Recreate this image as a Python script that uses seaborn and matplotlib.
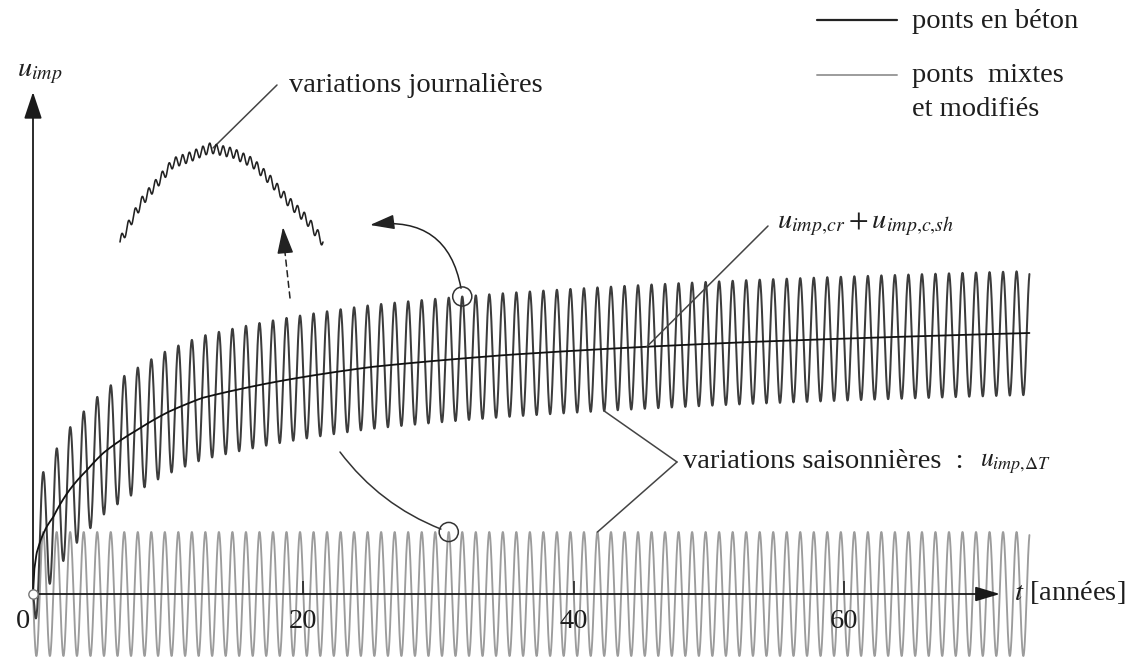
import numpy as np
import pandas as pd
import matplotlib
matplotlib.use('Agg')
import matplotlib.pyplot as plt
import seaborn as sns

W, H = 1130, 657

# creep + shrinkage curve of concrete bridges (years -> u)
creep_t = [0, 0.1, 0.27, 0.6, 1.0, 1.5, 2.7, 4.0, 5.2, 7.7, 10, 12.5, 15,
           17.5, 20, 25, 35, 45, 53, 73.7]
creep_u = [0, 2.5, 4.1, 5.5, 6.7, 7.7, 10.4, 12.4, 14.1, 16.4, 18.2, 19.6,
           20.4, 21.1, 21.7, 22.7, 23.9, 24.7, 25.2, 26.1]

# seasonal thermal variation (same for both bridge types)
seasonal_amp = 6.2
seasonal_period = 1.0   # years
t_end = 73.7

# daily variations (zoom on one season)
daily_day = [0, 1.92, 3.40, 5.47, 7.83, 10.34, 13.30, 16.70, 19.65, 22.17,
             24.68, 27.64, 30]
daily_arc = [0, 25, 42, 59, 79, 85, 94, 89, 79, 62, 42, 22, 0]
daily_amp = 5.0

x_ticks = [0, 20, 40, 60]

sns.set_theme(style='white')
plt.rcParams['font.family'] = ['Liberation Serif', 'DejaVu Serif']
plt.rcParams['mathtext.fontset'] = 'stix'

BLACK = '#3c3c3c'
GREY = '#9c9c9c'
TXT = '#1e1e1e'
FS = 20.5


def creep_at(t):
    return np.interp(np.log1p(t), np.log1p(creep_t), creep_u)


def seasonal_at(t):
    return -seasonal_amp * np.sin(2 * np.pi * np.asarray(t) / seasonal_period)


t = np.linspace(0, t_end, 15000)
df = pd.DataFrame({'t': t,
                   'creep': creep_at(t),
                   'grey': seasonal_at(t)})
df['black'] = df['creep'] + df['grey']

fig = plt.figure(figsize=(W / 100, H / 100), dpi=100)
ax = fig.add_axes([0, 0, 1, 1])
ax.set_xlim(-33 / 13.52, (W - 33) / 13.52)
ax.set_ylim(-(H - 594) / 10, 594 / 10)
ax.axis('off')

sns.lineplot(data=df, x='t', y='grey', ax=ax, color=GREY, lw=1.35,
             estimator=None, sort=False)
sns.lineplot(data=df, x='t', y='black', ax=ax, color=BLACK, lw=1.45,
             estimator=None, sort=False)
sns.lineplot(data=df, x='t', y='creep', ax=ax, color='#111111', lw=1.3,
             estimator=None, sort=False)


def fp(x, y):
    # picture pixel (from top-left) -> figure pixels
    return (x, H - y)


def dp(tt, uu):
    # data point -> figure pixels
    return tuple(ax.transData.transform((tt, uu)))


# axes with arrows
ax.annotate('', xy=fp(1000, 594), xytext=dp(0, 0), xycoords='figure pixels',
            textcoords='figure pixels',
            arrowprops=dict(arrowstyle='-|>,head_length=1.5,head_width=0.45',
                            color='k', lw=1.3, mutation_scale=10,
                            shrinkA=0, shrinkB=0), zorder=5)
ax.annotate('', xy=fp(33, 92), xytext=dp(0, 0), xycoords='figure pixels',
            textcoords='figure pixels',
            arrowprops=dict(arrowstyle='-|>,head_length=1.65,head_width=0.55',
                            color='k', lw=1.3, mutation_scale=10,
                            shrinkA=0, shrinkB=0), zorder=5)
ax.vlines(x_ticks[1:], 0, 1.3, color='k', lw=1.1, zorder=5)
for xt in x_ticks:
    ax.text(xt - (0.75 if xt == 0 else 0), -2.8, str(xt), ha='center',
            va='center', fontsize=FS, color=TXT)
ax.scatter([0], [0], s=45, facecolor='white', edgecolor='#777777', lw=1,
           zorder=6)

ax.annotate(r'$t$ [années]', xy=fp(1014, 593), xycoords='figure pixels',
            ha='left', va='center', fontsize=FS, color=TXT)
ax.annotate(r'$u_{imp}$', xy=fp(17, 74), xycoords='figure pixels',
            ha='left', va='center', fontsize=FS, color=TXT)

# legend
fig.add_artist(plt.Line2D([817 / W, 897 / W], [1 - 20 / H] * 2,
                          transform=fig.transFigure, color='#222222', lw=1.6))
fig.add_artist(plt.Line2D([817 / W, 897 / W], [1 - 75 / H] * 2,
                          transform=fig.transFigure, color=GREY, lw=1.4))
ax.annotate('ponts en béton', xy=fp(912, 22), xycoords='figure pixels',
            ha='left', va='center', fontsize=FS, color=TXT)
ax.annotate('ponts  mixtes', xy=fp(912, 75), xycoords='figure pixels',
            ha='left', va='center', fontsize=FS, color=TXT)
ax.annotate('et modifiés', xy=fp(912, 109), xycoords='figure pixels',
            ha='left', va='center', fontsize=FS, color=TXT)

# creep label
t_cr = 45.4
ax.annotate('', xy=fp(768, 226), xytext=dp(t_cr, creep_at(t_cr)),
            xycoords='figure pixels', textcoords='figure pixels',
            arrowprops=dict(arrowstyle='-', color='#444444', lw=1.1,
                            shrinkA=0, shrinkB=0))
ax.annotate(r'$u_{imp{,}cr} + u_{imp{,}c{,}sh}$', xy=fp(777, 224),
            xycoords='figure pixels', ha='left', va='center', fontsize=FS,
            color=TXT)

# seasonal label with bracket
t_tr = 42.25
t_pk = 41.75
vertex = fp(677, 462)
for target in [dp(t_tr, creep_at(t_tr) - seasonal_amp),
               dp(t_pk, seasonal_amp)]:
    ax.annotate('', xy=target, xytext=vertex, xycoords='figure pixels',
                textcoords='figure pixels',
                arrowprops=dict(arrowstyle='-', color='#444444', lw=1.1,
                                shrinkA=0, shrinkB=0))
ax.annotate('variations saisonnières  :', xy=fp(683, 462),
            xycoords='figure pixels', ha='left', va='center', fontsize=FS,
            color=TXT)
ax.annotate(r'$u_{imp{,}\Delta T}$', xy=fp(980, 464), xycoords='figure pixels',
            ha='left', va='center', fontsize=FS - 2, color=TXT)

# circles picking one seasonal peak on each curve
t_black = 31.75
t_grey = 30.75
c_black = (t_black, creep_at(t_black) + seasonal_amp)
c_grey = (t_grey, seasonal_amp)
ax.scatter([c_black[0], c_grey[0]], [c_black[1], c_grey[1]], s=190,
           facecolor='none', edgecolor='#333333', lw=1.1, zorder=6)
ax.annotate('', xy=fp(370, 225), xytext=dp(*c_black),
            xycoords='figure pixels', textcoords='figure pixels',
            arrowprops=dict(arrowstyle='-|>,head_length=1.5,head_width=0.45',
                            color='#222222', lw=1.1, mutation_scale=10,
                            shrinkA=6, shrinkB=0,
                            connectionstyle='arc3,rad=0.5'))
ax.annotate('', xy=dp(*c_grey), xytext=fp(340, 452),
            xycoords='figure pixels', textcoords='figure pixels',
            arrowprops=dict(arrowstyle='-', color='#333333', lw=1.1,
                            shrinkA=0, shrinkB=6,
                            connectionstyle='arc3,rad=0.15'))

# dashed arrow towards the zoomed daily variations
ax.annotate('', xy=fp(284.5, 248), xytext=fp(290, 298),
            xycoords='figure pixels', textcoords='figure pixels',
            arrowprops=dict(arrowstyle='-', color='#222222', lw=1.1,
                            linestyle=(0, (4, 3)), shrinkA=0, shrinkB=0))
ax.annotate('', xy=fp(283, 227), xytext=fp(285, 250),
            xycoords='figure pixels', textcoords='figure pixels',
            arrowprops=dict(arrowstyle='-|>,head_length=1.65,head_width=0.5',
                            color='#222222', lw=1.1, mutation_scale=10,
                            shrinkA=0, shrinkB=0))

# daily variations inset
ins = fig.add_axes([100 / W, 1 - 260 / H, 240 / W, 130 / H])
ins.set_xlim(-20 * 30 / 203, 220 * 30 / 203)
ins.set_ylim(-18, 112)
ins.axis('off')
ins.patch.set_alpha(0)
day = np.linspace(0, daily_day[-1], 3000)
daily = pd.DataFrame({'day': day,
                      'u': np.interp(day, daily_day, daily_arc)
                      + daily_amp * np.sin(2 * np.pi * day)})
sns.lineplot(data=daily, x='day', y='u', ax=ins, color='#222222', lw=1.15,
             estimator=None, sort=False)

ax.annotate('', xy=fp(213, 148), xytext=fp(277, 85),
            xycoords='figure pixels', textcoords='figure pixels',
            arrowprops=dict(arrowstyle='-', color='#444444', lw=1.1,
                            shrinkA=0, shrinkB=0))
ax.annotate('variations journalières', xy=fp(289, 85),
            xycoords='figure pixels', ha='left', va='center', fontsize=FS,
            color=TXT)

fig.savefig('out.png', dpi=100)
